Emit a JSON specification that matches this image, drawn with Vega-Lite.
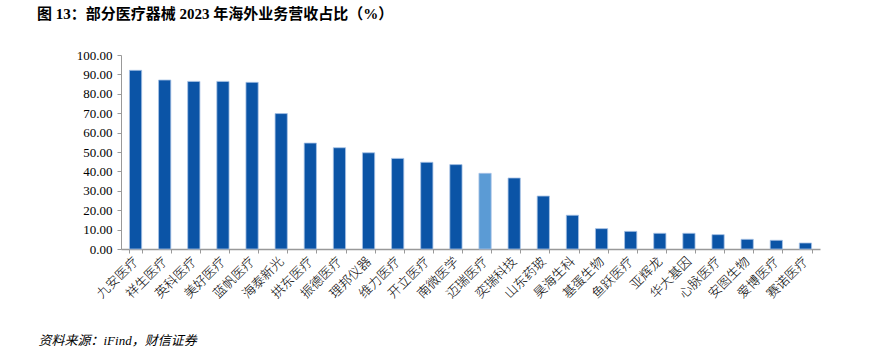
{
  "$schema": "https://vega.github.io/schema/vega-lite/v6.json",
  "autosize": "none",
  "width": 699,
  "height": 194,
  "padding": {"left": 121, "top": 55, "right": 50, "bottom": 107},
  "background": "white",
  "title": {
    "text": "图 13：部分医疗器械 2023 年海外业务营收占比（%）",
    "anchor": "start",
    "frame": "group",
    "dx": -84,
    "offset": 27,
    "font": "Liberation Serif, Noto Sans CJK SC",
    "fontSize": 15,
    "fontWeight": "bold",
    "color": "#000000"
  },
  "data": {
    "values": [
      {"company": "九安医疗", "share": 92.1},
      {"company": "祥生医疗", "share": 87.1},
      {"company": "英科医疗", "share": 86.4},
      {"company": "美好医疗", "share": 86.4},
      {"company": "蓝帆医疗", "share": 85.9},
      {"company": "海泰新光", "share": 69.8},
      {"company": "拱东医疗", "share": 54.6},
      {"company": "振德医疗", "share": 52.2},
      {"company": "理邦仪器", "share": 49.6},
      {"company": "维力医疗", "share": 46.7},
      {"company": "开立医疗", "share": 44.7},
      {"company": "南微医学", "share": 43.5},
      {"company": "迈瑞医疗", "share": 39.0},
      {"company": "奕瑞科技", "share": 36.6},
      {"company": "山东药玻", "share": 27.3},
      {"company": "昊海生科", "share": 17.4},
      {"company": "基蛋生物", "share": 10.5},
      {"company": "鱼跃医疗", "share": 9.1},
      {"company": "亚辉龙", "share": 8.1},
      {"company": "华大基因", "share": 8.1},
      {"company": "心脉医疗", "share": 7.4},
      {"company": "安图生物", "share": 5.0},
      {"company": "爱博医疗", "share": 4.5},
      {"company": "赛诺医疗", "share": 3.1}
    ]
  },
  "mark": {"type": "bar", "stroke": "#A8C3E6", "strokeWidth": 0.8},
  "encoding": {
    "x": {
      "field": "company",
      "type": "nominal",
      "sort": null,
      "scale": {"paddingInner": 0.58, "paddingOuter": 0.29},
      "axis": {
        "title": "资料来源：iFind，财信证券",
        "titleX": -83,
        "titleY": 91,
        "titleAnchor": "start",
        "titleAlign": "left",
        "titleBaseline": "middle",
        "titleAngle": 0,
        "titleFont": "Liberation Serif, Noto Sans CJK SC",
        "titleFontSize": 13,
        "titleFontStyle": "italic",
        "titleFontWeight": "normal",
        "titleColor": "#000000",
        "labelAngle": -45,
        "labelAlign": "right",
        "labelBaseline": "middle",
        "labelFont": "Liberation Serif, Noto Sans CJK SC",
        "labelFontSize": 13,
        "labelFontWeight": 300,
        "labelColor": "#000000",
        "labelPadding": 6,
        "labelOverlap": false,
        "tickBand": "extent",
        "tickSize": 4,
        "tickColor": "#999999",
        "domainColor": "#999999",
        "domainWidth": 1.5
      }
    },
    "y": {
      "field": "share",
      "type": "quantitative",
      "scale": {"domain": [0, 100]},
      "axis": {
        "title": null,
        "values": [0, 10, 20, 30, 40, 50, 60, 70, 80, 90, 100],
        "format": ".2f",
        "grid": false,
        "labelFont": "Liberation Serif",
        "labelFontSize": 13,
        "labelColor": "#000000",
        "labelPadding": 5,
        "tickSize": 4,
        "tickColor": "#999999",
        "domainColor": "#999999"
      }
    },
    "color": {
      "condition": {"test": "datum.company === '迈瑞医疗'", "value": "#5B9BD5"},
      "value": "#0B54A6"
    }
  },
  "config": {"view": {"stroke": null}}
}
